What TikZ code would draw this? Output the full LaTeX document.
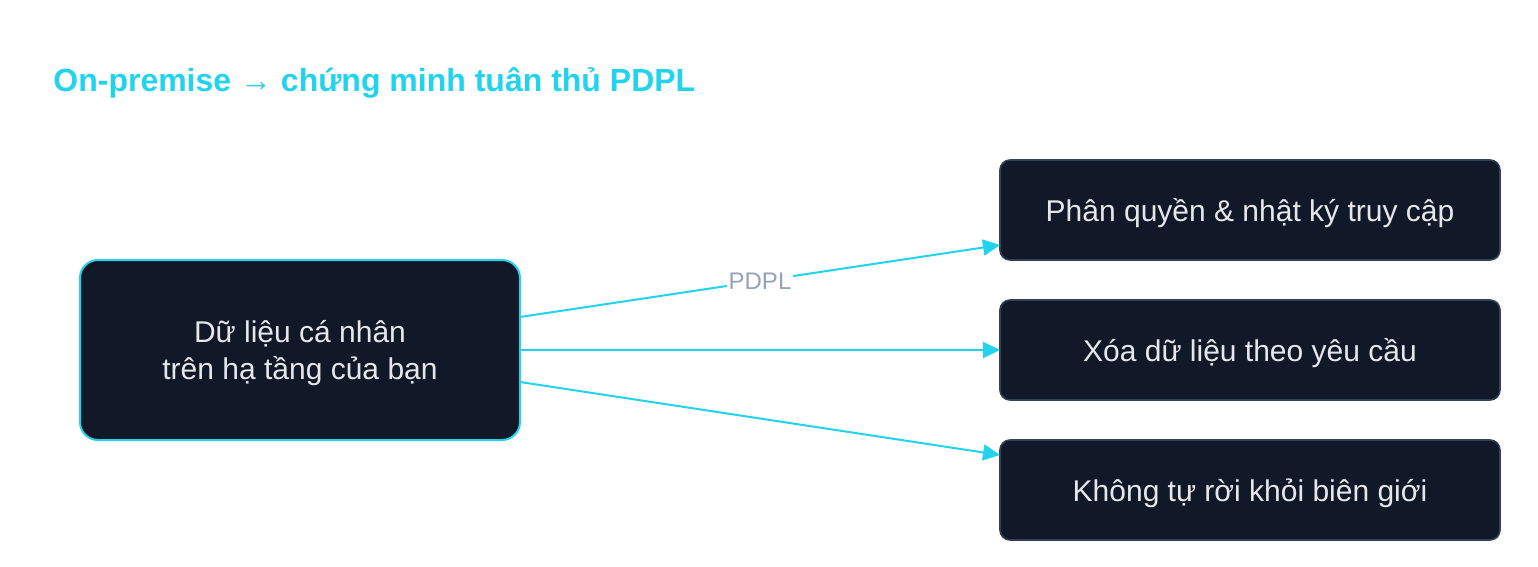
\documentclass[tikz,border=0pt]{standalone}
\usepackage{fontspec}
\setmainfont{Liberation Sans}
\usetikzlibrary{arrows.meta}
\definecolor{flowcyan}{HTML}{22D3EE}
\definecolor{boxfill}{HTML}{111827}
\definecolor{boxedge}{HTML}{334155}
\definecolor{labelgray}{HTML}{94A3B8}
\definecolor{boxtext}{HTML}{E5E7EB}
\begin{document}
\begin{tikzpicture}[x=0.5pt, y=-0.5pt, line join=round,
		>={Triangle[length=8.5pt,width=8pt]},
		srcbox/.style={draw=flowcyan, line width=1pt, fill=boxfill, rounded corners=9pt,
			minimum width=220pt, minimum height=90pt, inner sep=0pt, outer sep=0pt,
			text=boxtext, font=\fontsize{15}{18.5}\selectfont, align=center, text depth=0pt},
		goalbox/.style={draw=boxedge, line width=0.8pt, fill=boxfill, rounded corners=5pt,
			minimum width=250pt, minimum height=50pt, inner sep=0pt, outer sep=0pt,
			text=boxtext, font=\fontsize{15}{18}\selectfont, text depth=0pt},
		flow/.style={->, draw=flowcyan, line width=1pt}]
	\fill[white] (0,0) rectangle (1538,567);
	\useasboundingbox (0,0) rectangle (1538,567);
	% title
	\node[anchor=base west, inner sep=0pt, text=flowcyan, font=\fontsize{16}{19}\selectfont\bfseries]
		(title) at (53,92) {On-premise → chứng minh tuân thủ PDPL};
	% boxes
	\node[srcbox] (data) at (300,350) {Dữ liệu cá nhân\\trên hạ tầng của bạn};
	\node[goalbox] (access) at (1250,210) {Phân quyền \& nhật ký truy cập};
	\node[goalbox] (erase) at (1250,350) {Xóa dữ liệu theo yêu cầu};
	\node[goalbox] (border) at (1250,490) {Không tự rời khỏi biên giới};
	% connectors
	\draw[flow] ([yshift=16.5pt]data.east) -- ([yshift=-17.5pt]access.west)
		node[midway, fill=white, inner sep=1pt, text=labelgray, font=\fontsize{12}{14}\selectfont] (law) {PDPL};
	\draw[flow] (data.east) -- (erase.west);
	\draw[flow] ([yshift=-16pt]data.east) -- ([yshift=17.5pt]border.west);
\end{tikzpicture}
\end{document}
